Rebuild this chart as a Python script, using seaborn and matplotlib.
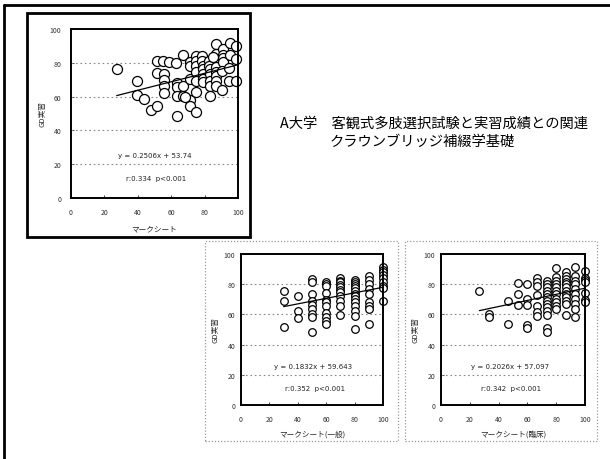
import matplotlib
matplotlib.use("Agg")
import matplotlib.pyplot as plt
import seaborn as sns
import pandas as pd
import numpy as np
from matplotlib.patches import Rectangle
from matplotlib.lines import Line2D

sns.set_theme(style="white")
plt.rcParams["font.family"] = ["Noto Sans CJK JP", "DejaVu Sans"]

# ---- data -------------------------------------------------------------
title_line1 = "A大学　客観式多肢選択試験と実習成績との関連"
title_line2 = "クラウンブリッジ補綴学基礎"
y_label = "GD実習"
x_labels = ["マークシート", "マークシート(一般)", "マークシート(臨床)"]
tick_values = [0, 20, 40, 60, 80, 100]

# overall mark-sheet score vs. practical score
total_x = [27.4, 39.8, 39.8, 43.7, 47.7, 51.3, 51.3, 55.3, 58.8, 62.8,
           51.7, 55.7, 55.7, 55.7, 55.7, 63.2, 63.2, 63.2, 63.2, 67.2,
           67.2, 67.2, 71.2, 71.2, 71.2, 71.2, 71.2, 74.8, 74.8, 74.8,
           75.1, 75.1, 75.1, 75.1, 78.7, 78.7, 79.1, 79.1, 79.1, 79.1,
           79.1, 82.7, 82.7, 83.1, 83.1, 83.1, 83.1, 83.1, 87.1, 87.1,
           87.1, 87.1, 87.1, 87.1, 87.1, 91.1, 91.1, 91.1, 91.1, 90.7,
           90.7, 95.0, 95.0, 94.6, 94.6, 99.0, 99.0, 99.0, 68.2, 85.1]
total_y = [76.3, 69.4, 60.9, 58.6, 52.3, 54.2, 81.3, 80.9, 80.7, 79.7,
           74.0, 73.4, 69.8, 66.5, 62.1, 68.0, 65.5, 60.2, 48.7, 84.6,
           66.1, 60.2, 58.0, 54.2, 80.7, 78.3, 70.4, 84.2, 81.3, 78.3,
           74.4, 69.4, 62.9, 50.7, 84.2, 81.3, 78.3, 76.3, 73.4, 70.4,
           68.4, 81.3, 78.3, 76.3, 73.4, 69.4, 66.5, 60.2, 77.3, 74.4,
           72.0, 69.4, 66.5, 91.1, 85.2, 88.2, 84.6, 82.6, 80.7, 75.3,
           63.9, 91.7, 84.6, 76.7, 69.4, 89.7, 82.2, 69.4, 59.6, 83.2]

# general-section score vs. practical score
general_x = ([30] * 3 + [40] * 3 + [50] * 9 + [60] * 11 + [70] * 11
             + [80] * 14 + [90] * 9 + [100] * 9)
general_y = [75.2, 69.0, 51.8,
             72.3, 62.4, 57.5,
             83.4, 81.6, 73.5, 69.0, 66.2, 63.5, 60.2, 58.6, 48.5,
             81.6, 80.1, 78.5, 73.9, 69.5, 67.9, 65.7, 60.8, 58.0, 55.8, 53.5,
             83.8, 82.3, 81.2, 79.4, 77.9, 76.1, 74.6, 71.9, 69.0, 65.7, 59.5,
             83.0, 81.6, 80.3, 79.0, 77.2, 75.4, 73.7, 71.9, 70.1, 67.9, 65.7,
             62.4, 59.1, 50.2,
             85.2, 83.0, 80.1, 76.8, 73.5, 68.4, 65.7, 63.5, 53.5,
             91.2, 89.6, 87.8, 86.1, 83.8, 81.6, 79.0, 77.2, 69.0]

# clinical-section score vs. practical score
clinical_x = ([26.7] + [33.3] * 2 + [46.7] * 2 + [53.3] * 3 + [60.0] * 5
              + [66.7] * 7 + [73.3] * 13 + [80.0] * 11 + [86.7] * 12
              + [93.3] * 10 + [100.0] * 7)
clinical_y = [75.2,
              60.2, 58.0,
              69.0, 53.5,
              80.8, 73.5, 66.2,
              80.1, 70.1, 66.2, 52.9, 51.3,
              83.8, 81.2, 78.5, 72.8, 65.7, 61.7, 59.1,
              82.3, 80.1, 77.9, 75.7, 73.5, 71.2, 69.0, 66.8, 64.6, 62.4,
              59.5, 50.7, 48.5,
              90.5, 84.5, 82.3, 80.1, 77.9, 75.7, 73.5, 70.1, 67.9, 65.7, 63.5,
              87.8, 85.2, 83.4, 81.6, 80.1, 77.9, 75.7, 73.5, 71.2, 69.0,
              66.8, 59.5,
              91.4, 85.2, 82.3, 80.1, 76.8, 73.5, 70.1, 66.8, 63.5, 58.0,
              88.9, 83.8, 82.9, 81.6, 74.1, 69.7, 68.4]

slopes = [0.2506, 0.1832, 0.2026]
intercepts = [53.74, 59.643, 57.097]
eq_texts = ["y = 0.2506x + 53.74", "y = 0.1832x + 59.643", "y = 0.2026x + 57.097"]
r_texts = ["r:0.334  p<0.001", "r:0.352  p<0.001", "r:0.342  p<0.001"]

# ---- figure -----------------------------------------------------------
W, H = 610, 460
fig = plt.figure(figsize=(W / 100, H / 100), dpi=100)
fig.patch.set_facecolor("white")


def px_axes(x0, y0, x1, y1):
    return fig.add_axes([x0 / W, 1 - y1 / H, (x1 - x0) / W, (y1 - y0) / H])


def frame(x0, y0, x1, y1, **kw):
    fig.add_artist(Rectangle((x0 / W, 1 - y1 / H), (x1 - x0) / W, (y1 - y0) / H,
                             transform=fig.transFigure, fill=False, **kw))


# outer slide frame
fig.add_artist(Line2D([4 / W, 1], [1 - 6 / H, 1 - 6 / H], transform=fig.transFigure,
                      color="black", lw=2.0))
fig.add_artist(Line2D([4 / W, 4 / W], [0, 1 - 6 / H], transform=fig.transFigure,
                      color="black", lw=2.0))

# panel frames
frame(27, 14, 250, 238, edgecolor="black", lw=2.0)
frame(205, 242, 398, 442, edgecolor="#9a9a9a", lw=0.9, linestyle=(0, (1, 1.5)))
frame(405, 242, 597, 442, edgecolor="#9a9a9a", lw=0.9, linestyle=(0, (1, 1.5)))

panels = [
    dict(box=(71, 30, 238, 199), x=total_x, y=total_y, s=52,
         eq=(50, 25.5), r=(51, 12), xlabel_pad=6, ylabel_pad=2, ypad=7),
    dict(box=(241, 255, 383, 406), x=general_x, y=general_y, s=30,
         eq=(51, 25.5), r=(52, 11.5), xlabel_pad=5, ylabel_pad=3, ypad=4),
    dict(box=(441, 255, 585, 406), x=clinical_x, y=clinical_y, s=30,
         eq=(48, 25.5), r=(49, 11), xlabel_pad=5, ylabel_pad=3, ypad=4),
]

for i, p in enumerate(panels):
    ax = px_axes(*p["box"])
    df = pd.DataFrame({"x": p["x"], "y": p["y"]})
    sns.scatterplot(data=df, x="x", y="y", ax=ax, marker="o", s=p["s"],
                    facecolor="white", edgecolor="black", linewidth=0.9,
                    zorder=3, legend=False, clip_on=False)
    xs = np.array([min(p["x"]), max(p["x"])])
    line_df = pd.DataFrame({"x": xs, "y": slopes[i] * xs + intercepts[i]})
    sns.lineplot(data=line_df, x="x", y="y", ax=ax, color="black", lw=0.9,
                 zorder=4)
    ax.set_xlim(0, 100)
    ax.set_ylim(0, 100)
    ax.set_xticks(tick_values)
    ax.set_yticks(tick_values)
    ax.set_xticklabels([str(v) for v in tick_values], fontsize=5, color="#333333")
    ax.set_yticklabels([str(v) for v in tick_values], fontsize=5, color="#333333")
    ax.tick_params(axis="x", direction="in", length=2, width=0.6, pad=7,
                   bottom=True)
    ax.tick_params(axis="y", direction="in", length=2, width=0.6, pad=p["ypad"],
                   left=True)
    for v in [20, 40, 60, 80]:
        ax.axhline(v, color="#8a8a8a", lw=0.8, linestyle=(0, (1.5, 2.5)), zorder=1)
    for sp in ax.spines.values():
        sp.set_color("black")
        sp.set_linewidth(1.4)
        sp.set_zorder(5)
    ax.set_xlabel(x_labels[i], fontsize=5.5, labelpad=p["xlabel_pad"])
    ax.set_ylabel(y_label, fontsize=5.5, labelpad=p["ylabel_pad"])
    ax.text(p["eq"][0], p["eq"][1], eq_texts[i], fontsize=5, ha="center",
            va="center", color="#222222", family=["DejaVu Sans"])
    ax.text(p["r"][0], p["r"][1], r_texts[i], fontsize=5, ha="center",
            va="center", color="#222222", family=["DejaVu Sans"])

# slide title
fig.text(280 / W, 1 - 124 / H, title_line1, fontsize=10.3, ha="left",
         va="center", color="black")
fig.text(330 / W, 1 - 142 / H, title_line2, fontsize=10.3, ha="left",
         va="center", color="black")

fig.savefig("out.png", dpi=100, facecolor="white")
